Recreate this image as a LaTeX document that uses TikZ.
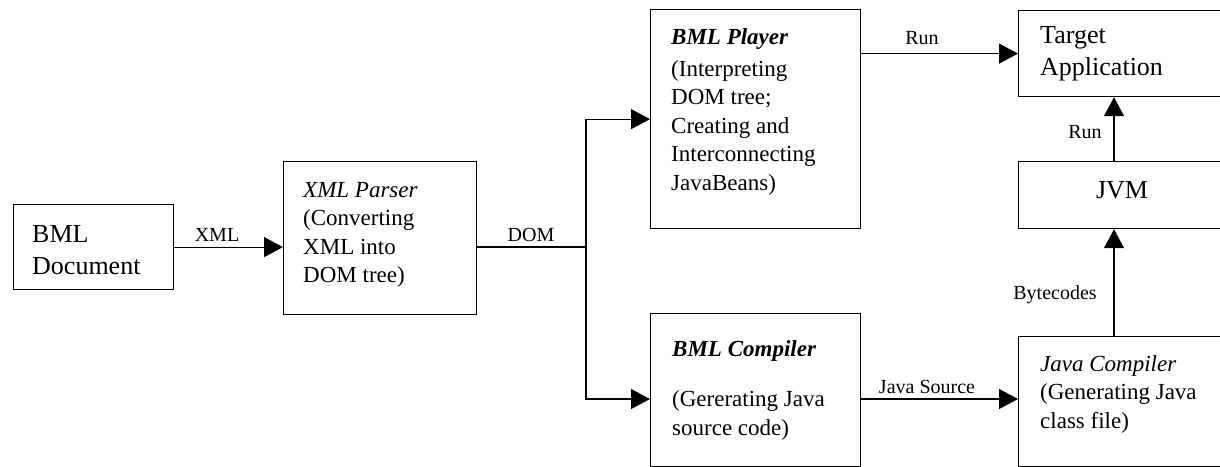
\documentclass[tikz,border=0pt]{standalone}
\usepackage{fontspec}
\setmainfont{Liberation Serif}
\usetikzlibrary{arrows.meta}
\tikzset{
  box/.style={draw, line width=1.2pt, inner sep=0pt, anchor=north west},
  body/.style={inner sep=0pt, anchor=base west, font=\fontsize{23}{28.5}\selectfont},
  big/.style={inner sep=0pt, anchor=base west, font=\fontsize{26}{32.5}\selectfont},
  lbl/.style={inner sep=0pt, anchor=base, font=\fontsize{20}{24}\selectfont},
  conn/.style={line width=1.2pt},
  arr/.style={conn, -{Triangle[length=19pt,width=20pt]}},
}
\begin{document}
\begin{tikzpicture}[x=1pt,y=-1pt]
\useasboundingbox (0,0) rectangle (1220,466);
\clip (0,0) rectangle (1220,466);

% boxes
\node[box, minimum width=160pt, minimum height=85pt]  (doc)    at (13,204)  {};
\node[box, minimum width=193pt, minimum height=153pt] (parser) at (283,161) {};
\node[box, minimum width=210pt, minimum height=219pt] (player) at (650,9)   {};
\node[box, minimum width=210pt, minimum height=153pt] (bmlc)   at (650,313) {};
\node[box, minimum width=212pt, minimum height=86pt]  (target) at (1018,10) {};
\node[box, minimum width=208pt, minimum height=67pt]  (jvm)    at (1018,161) {};
\node[box, minimum width=212pt, minimum height=130pt] (jc)     at (1018,336) {};

% texts
\node[big] (doct) at (32,242) {\vtop{\hbox{BML}\hbox{Document}}};
\node[body] (parsert) at (303,197) {\vtop{\hbox{\textit{XML Parser}}\hbox{(Converting}\hbox{XML into}\hbox{DOM tree)}}};
\node[body] (playert) at (671,44) {\vtop{\hbox{\textbf{\textit{BML Player}}}\vskip3.5pt\hbox{(Interpreting}\hbox{DOM tree;}\hbox{Creating and}\hbox{Interconnecting}\hbox{JavaBeans)}}};
\node[body] (bmlct) at (672,356) {\vtop{\hbox{\textbf{\textit{BML Compiler}}}\vskip22pt\hbox{(Gererating Java}\hbox{source code)}}};
\node[big] (targett) at (1040,43) {\vtop{\hbox{Target}\hbox{Application}}};
\node[big, anchor=base] (jvmt) at (1122,198) {JVM};
\node[body] (jct) at (1040,371) {\vtop{\hbox{\textit{Java Compiler}}\hbox{(Generating Java}\hbox{class file)}}};

% helper coordinates
\coordinate (br) at (586,247);
\coordinate (ylow) at (0,399);
\coordinate (xv) at (1114,0);

% connectors
\draw[arr] (doc.east) -- (doc.east -| parser.west);
\draw[conn] (parser.east |- br) -- (br);
\draw[arr] (br) |- (player.west);
\draw[arr] (br) |- (bmlc.west |- ylow);
\draw[arr] (player.east |- target.west) -- (target.west);
\draw[arr] (jvm.north -| xv) -- (target.south -| xv);
\draw[arr] (jc.north -| xv) -- (jvm.south -| xv);
\draw[arr] (bmlc.east |- ylow) -- (jc.west |- ylow);

% labels
\node[lbl] (lxml) at (217,241) {XML};
\node[lbl] (ldom) at (531,241) {DOM};
\node[lbl] (lrun1) at (922,44) {Run};
\node[lbl] (lrun2) at (1085,138) {Run};
\node[lbl] (lbyte) at (1055,299) {Bytecodes};
\node[lbl] (ljs) at (927,393) {Java Source};
\end{tikzpicture}
\end{document}
